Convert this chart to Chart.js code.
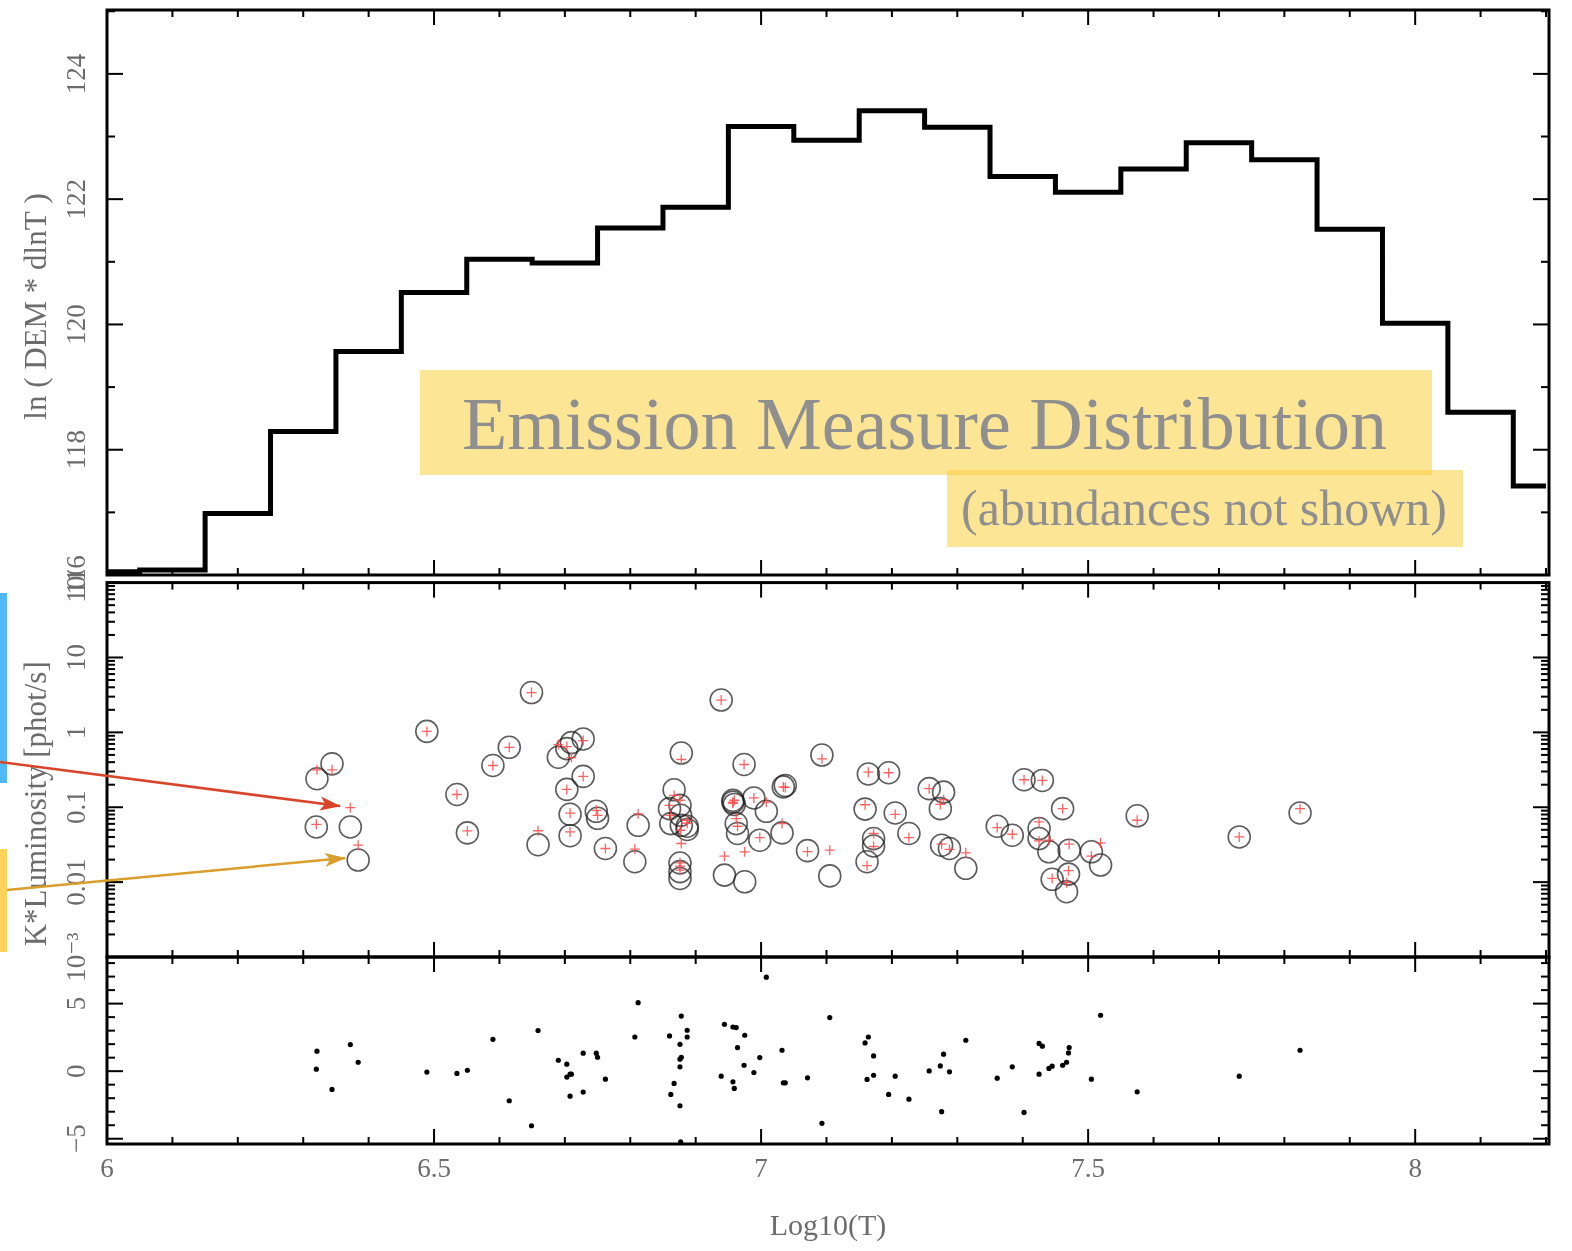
<!DOCTYPE html>
<html>
<head>
<meta charset="utf-8">
<script src="https://cdn.jsdelivr.net/npm/chart.js@4.4.1/dist/chart.umd.min.js"></script>
<style>
  html, body { margin: 0; padding: 0; background: #fff; }
  #page { position: relative; width: 1572px; height: 1251px; overflow: hidden; background: #fff; }
  .panel { position: absolute; left: 0; width: 1572px; }
  #overlay { position: absolute; left: 0; top: 0; pointer-events: none; }
</style>
</head>
<body>
<div id="page">
  <div class="panel" style="top:0;height:600px"><canvas id="demChart"></canvas></div>
  <div class="panel" style="top:570px;height:420px"><canvas id="lumChart"></canvas></div>
  <div class="panel" style="top:940px;height:311px"><canvas id="resChart"></canvas></div>
  <svg id="overlay" width="1572" height="1251" viewBox="0 0 1572 1251">
    <defs>
      <marker id="headRed" markerUnits="userSpaceOnUse" markerWidth="22" markerHeight="16" refX="20" refY="8" orient="auto">
        <path d="M0,1 L21,8 L0,15 L5,8 z" fill="#d8452b"/>
      </marker>
      <marker id="headGold" markerUnits="userSpaceOnUse" markerWidth="22" markerHeight="16" refX="20" refY="8" orient="auto">
        <path d="M0,1 L21,8 L0,15 L5,8 z" fill="#d99e2b"/>
      </marker>
    </defs>
    <rect x="420" y="370" width="1012" height="105" fill="rgba(252,207,64,0.55)"/>
    <rect x="947" y="470" width="516" height="77" fill="rgba(252,207,64,0.55)"/>
    <text x="462" y="449" font-family="Liberation Serif, DejaVu Serif, serif" font-size="74" fill="#8f8f8f">Emission Measure Distribution</text>
    <text x="961" y="525" font-family="Liberation Serif, DejaVu Serif, serif" font-size="50" fill="#8f8f8f">(abundances not shown)</text>
    <rect x="0" y="593" width="7" height="190" fill="#4fb8f6"/>
    <rect x="0" y="849" width="7" height="103" fill="#fdd35b"/>
    <line x1="0" y1="762" x2="340" y2="806" stroke="#d8452b" stroke-width="2.5" marker-end="url(#headRed)"/>
    <line x1="7" y1="890" x2="345" y2="858" stroke="#d99e2b" stroke-width="2.5" marker-end="url(#headGold)"/>
  </svg>
</div>
<script>
// ---- data ----
// top panel: DEM histogram (bin centres in log10 T)
const demLogT = [6.0, 6.1, 6.2, 6.3, 6.4, 6.5, 6.6, 6.7, 6.8, 6.9, 7.0, 7.1, 7.2, 7.3, 7.4, 7.5, 7.6, 7.7, 7.8, 7.9, 8.0, 8.1, 8.2];
const demValue = [116.05, 116.08, 116.98, 118.29, 119.57, 120.51, 121.04, 120.98, 121.54, 121.87, 123.16, 122.94, 123.41, 123.15, 122.36, 122.11, 122.48, 122.90, 122.63, 121.52, 120.02, 118.60, 117.42];

// middle + bottom panels: one entry per spectral line
const lineLogT = [6.320, 6.321, 6.344, 6.372, 6.384, 6.489, 6.535, 6.551, 6.590, 6.615,
  6.649, 6.659, 6.690, 6.703, 6.710, 6.728, 6.728, 6.703, 6.708, 6.708,
  6.748, 6.750, 6.762, 6.807, 6.812, 6.878, 6.867, 6.876, 6.860, 6.862,
  6.887, 6.887, 6.878, 6.876, 6.876, 6.876, 6.877, 6.939, 6.944, 6.957,
  6.957, 6.959, 6.962, 6.964, 6.975, 6.974, 6.989, 6.998, 7.008, 7.032,
  7.034, 7.037, 7.071, 7.093, 7.105, 7.164, 7.159, 7.172, 7.172, 7.162,
  7.195, 7.205, 7.226, 7.257, 7.279, 7.274, 7.276, 7.288, 7.313, 7.361,
  7.384, 7.402, 7.430, 7.425, 7.425, 7.440, 7.445, 7.461, 7.471, 7.470,
  7.467, 7.505, 7.519, 7.575, 7.731, 7.824];
const obsLum = [0.0545, 0.240, 0.380, 0.0545, 0.0197, 1.03, 0.148, 0.0454, 0.361, 0.632,
  3.40, 0.0316, 0.465, 0.607, 0.729, 0.817, 0.258, 0.173, 0.0805, 0.0417,
  0.0882, 0.0712, 0.0281, 0.0187, 0.0574, 0.529, 0.171, 0.106, 0.0958, 0.0605,
  0.0504, 0.0557, 0.0574, 0.0180, 0.0138, 0.0112, 0.0780, 2.70, 0.0124, 0.117,
  0.124, 0.109, 0.0605, 0.0446, 0.0101, 0.372, 0.133, 0.0363, 0.0882, 0.0454,
  0.187, 0.195, 0.0263, 0.498, 0.0121, 0.278, 0.0944, 0.0382, 0.0304, 0.0187,
  0.289, 0.0837, 0.0446, 0.177, 0.159, 0.0958, 0.0311, 0.0281, 0.0153, 0.0557,
  0.0423, 0.233, 0.228, 0.0519, 0.0382, 0.0254, 0.0109, 0.0958, 0.0267, 0.0128,
  0.00745, 0.0254, 0.0169, 0.0769, 0.0401, 0.0837];
const modelLum = [0.0592, 0.316, 0.316, 0.0988, 0.0311, 1.03, 0.148, 0.0483, 0.361, 0.632,
  3.40, 0.0485, 0.686, 0.645, 0.461, 0.776, 0.258, 0.173, 0.0837, 0.0468,
  0.0910, 0.0780, 0.0281, 0.0275, 0.0817, 0.434, 0.144, 0.124, 0.106, 0.0780,
  0.0670, 0.0611, 0.0328, 0.0181, 0.0164, 0.0145, 0.0493, 2.70, 0.0222, 0.117,
  0.113, 0.124, 0.0705, 0.0557, 0.0254, 0.372, 0.133, 0.0394, 0.117, 0.0605,
  0.187, 0.184, 0.0255, 0.443, 0.0267, 0.294, 0.108, 0.0446, 0.0299, 0.0166,
  0.289, 0.0805, 0.0394, 0.177, 0.126, 0.109, 0.0321, 0.0273, 0.0246, 0.0535,
  0.0436, 0.233, 0.228, 0.0636, 0.0355, 0.0363, 0.0112, 0.0958, 0.0321, 0.0142,
  0.00982, 0.0222, 0.0334, 0.0670, 0.0401, 0.0958];
const residual = [0.15, 1.48, -1.35, 1.97, 0.66, -0.07, -0.17, 0.07, 2.36, -2.19,
  -4.04, 3.01, 0.81, 0.52, -0.22, 1.33, -1.55, -0.44, -1.85, -0.22,
  1.33, 1.03, -0.59, 2.53, 5.07, 4.08, -0.91, 1.99, 2.61, -1.72,
  3.03, 2.53, 1.03, 0.89, 0.32, -2.56, -5.24, -0.37, 3.47, 3.27,
  -0.79, -1.28, 3.23, 1.75, 2.66, 0.44, -0.10, 1.01, 6.96, 1.55,
  -0.86, -0.86, -0.49, -3.86, 3.97, 2.53, 2.09, 1.13, -0.30, -0.61,
  -1.72, -0.37, -2.07, 0.02, 1.26, 0.39, -3.00, -0.05, 2.29, -0.52,
  0.32, -3.05, 1.85, -0.22, 2.05, 0.20, 0.37, 0.44, 1.75, 1.35,
  0.66, -0.59, 4.14, -1.53, -0.37, 1.55];

// ticks
const xTickValues = [6, 6.5, 7, 7.5, 8];
const xTickLabels = ['6', '6.5', '7', '7.5', '8'];
const demTickValues = [116, 118, 120, 122, 124];
const demTickLabels = ['116', '118', '120', '122', '124'];
const lumTickValues = [0.001, 0.01, 0.1, 1, 10, 100];
const lumTickLabels = ['10\u207B\u00B3', '0.01', '0.1', '1', '10', '100'];
const resTickValues = [-5, 0, 5];
const resTickLabels = ['\u22125', '0', '5'];

// minor tick positions
const xMinor = [];
for (let i = 0; i <= 22; i++) xMinor.push(6 + i * 0.1);
const demMinor = [];
for (let v = 117; v <= 125; v += 2) demMinor.push(v);
const lumMinor = [];
for (let e = -3; e < 2; e++) for (let m = 2; m <= 9; m++) lumMinor.push(m * Math.pow(10, e));
const resMinor = [];
for (let v = -5; v <= 8; v++) if (resTickValues.indexOf(v) < 0) resMinor.push(v);

const FONT = '"Liberation Serif", "DejaVu Serif", serif';
const GREY = '#6c6c6c';
const X_MAX = 8.2046;

// frame, inward ticks, rotated y labels and y title
const axisFrame = {
  id: 'axisFrame',
  afterDatasetsDraw(chart, args, o) {
    const ctx = chart.ctx, a = chart.chartArea;
    const xs = chart.scales.x, ys = chart.scales.y;
    ctx.save();
    ctx.strokeStyle = '#000';
    ctx.lineWidth = 2;
    const seg = (x1, y1, x2, y2) => { ctx.beginPath(); ctx.moveTo(x1, y1); ctx.lineTo(x2, y2); ctx.stroke(); };
    xMinor.forEach(v => {
      const px = xs.getPixelForValue(v);
      const major = Math.abs(v * 2 - Math.round(v * 2)) < 1e-6;
      const len = major ? 15 : 7;
      seg(px, a.top, px, a.top + len);
      seg(px, a.bottom, px, a.bottom - len);
    });
    const yTick = (v, len) => {
      const py = ys.getPixelForValue(v);
      if (py < a.top - 0.5 || py > a.bottom + 0.5) return;
      seg(a.left, py, a.left + len, py);
      seg(a.right, py, a.right - len, py);
    };
    o.minor.forEach(v => yTick(v, 8));
    o.major.forEach(v => yTick(v, 16));
    ctx.lineWidth = 3;
    ctx.strokeRect(a.left, a.top, a.right - a.left, a.bottom - a.top);

    ctx.fillStyle = GREY;
    ctx.textAlign = 'center';
    ctx.textBaseline = 'middle';
    ctx.font = '27px ' + FONT;
    o.major.forEach((v, i) => {
      ctx.save();
      ctx.translate(78, ys.getPixelForValue(v));
      ctx.rotate(-Math.PI / 2);
      ctx.fillText(o.labels[i], 0, 0);
      ctx.restore();
    });
    ctx.font = '31px ' + FONT;
    ctx.save();
    ctx.translate(38, (a.top + a.bottom) / 2 + o.titleShift);
    ctx.rotate(-Math.PI / 2);
    ctx.fillText(o.title, 0, 0);
    ctx.restore();
    ctx.restore();
  }
};

const hiddenX = { type: 'linear', min: 6, max: X_MAX, display: false };
const baseOpts = {
  responsive: true,
  maintainAspectRatio: false,
  animation: false,
  events: []
};

new Chart(document.getElementById('demChart'), {
  type: 'line',
  data: {
    datasets: [{
      data: demLogT.map((t, i) => ({ x: t, y: demValue[i] })),
      stepped: 'middle',
      borderColor: '#000',
      borderWidth: 5,
      pointRadius: 0,
      fill: false
    }]
  },
  options: Object.assign({}, baseOpts, {
    layout: { padding: { left: 107, right: 23, top: 10, bottom: 25 } },
    scales: {
      x: hiddenX,
      y: { type: 'linear', min: 116, max: 125.02, display: false }
    },
    plugins: {
      legend: { display: false }, tooltip: { enabled: false },
      axisFrame: { major: demTickValues, labels: demTickLabels, minor: demMinor, title: 'ln ( DEM * dlnT )', titleShift: 14 }
    }
  }),
  plugins: [axisFrame]
});

new Chart(document.getElementById('lumChart'), {
  type: 'scatter',
  data: {
    datasets: [{
      label: 'model',
      data: lineLogT.map((t, i) => ({ x: t, y: modelLum[i] })),
      pointStyle: 'cross',
      pointRadius: 5,
      borderColor: 'rgba(255,70,70,0.85)',
      borderWidth: 1.3
    }, {
      label: 'observed',
      data: lineLogT.map((t, i) => ({ x: t, y: obsLum[i] })),
      pointStyle: 'circle',
      pointRadius: 11,
      backgroundColor: 'rgba(0,0,0,0)',
      borderColor: 'rgba(30,30,30,0.72)',
      borderWidth: 1.6
    }]
  },
  options: Object.assign({}, baseOpts, {
    layout: { padding: { left: 107, right: 23, top: 10, bottom: 33 } },
    scales: {
      x: hiddenX,
      y: { type: 'logarithmic', min: 0.001, max: 100, display: false }
    },
    plugins: {
      legend: { display: false }, tooltip: { enabled: false },
      axisFrame: { major: lumTickValues, labels: lumTickLabels, minor: lumMinor, title: 'K*Luminosity [phot/s]', titleShift: 34 }
    }
  }),
  plugins: [axisFrame]
});

new Chart(document.getElementById('resChart'), {
  type: 'scatter',
  data: {
    datasets: [{
      data: lineLogT.map((t, i) => ({ x: t, y: residual[i] })),
      pointStyle: 'circle',
      pointRadius: 2.6,
      backgroundColor: '#000',
      borderWidth: 0
    }]
  },
  options: Object.assign({}, baseOpts, {
    layout: { padding: { left: 107, right: 23, top: 17, bottom: 0 } },
    scales: {
      x: {
        type: 'linear', min: 6, max: X_MAX, position: 'bottom',
        afterBuildTicks: s => { s.ticks = xTickValues.map(v => ({ value: v })); },
        afterFit: s => { s.height = 107; },
        grid: { display: false, drawTicks: false },
        border: { display: false },
        ticks: {
          autoSkip: false, maxRotation: 0, padding: 10, color: GREY,
          font: { family: FONT, size: 27 },
          callback: (v, i) => xTickLabels[i]
        },
        title: {
          display: true, text: 'Log10(T)', color: GREY,
          font: { family: FONT, size: 30 },
          padding: { top: 0, bottom: 6 }
        }
      },
      y: { type: 'linear', min: -5.39, max: 8.45, display: false }
    },
    plugins: {
      legend: { display: false }, tooltip: { enabled: false },
      axisFrame: { major: resTickValues, labels: resTickLabels, minor: resMinor, title: '', titleShift: 0 }
    }
  }),
  plugins: [axisFrame]
});
</script>
</body>
</html>
